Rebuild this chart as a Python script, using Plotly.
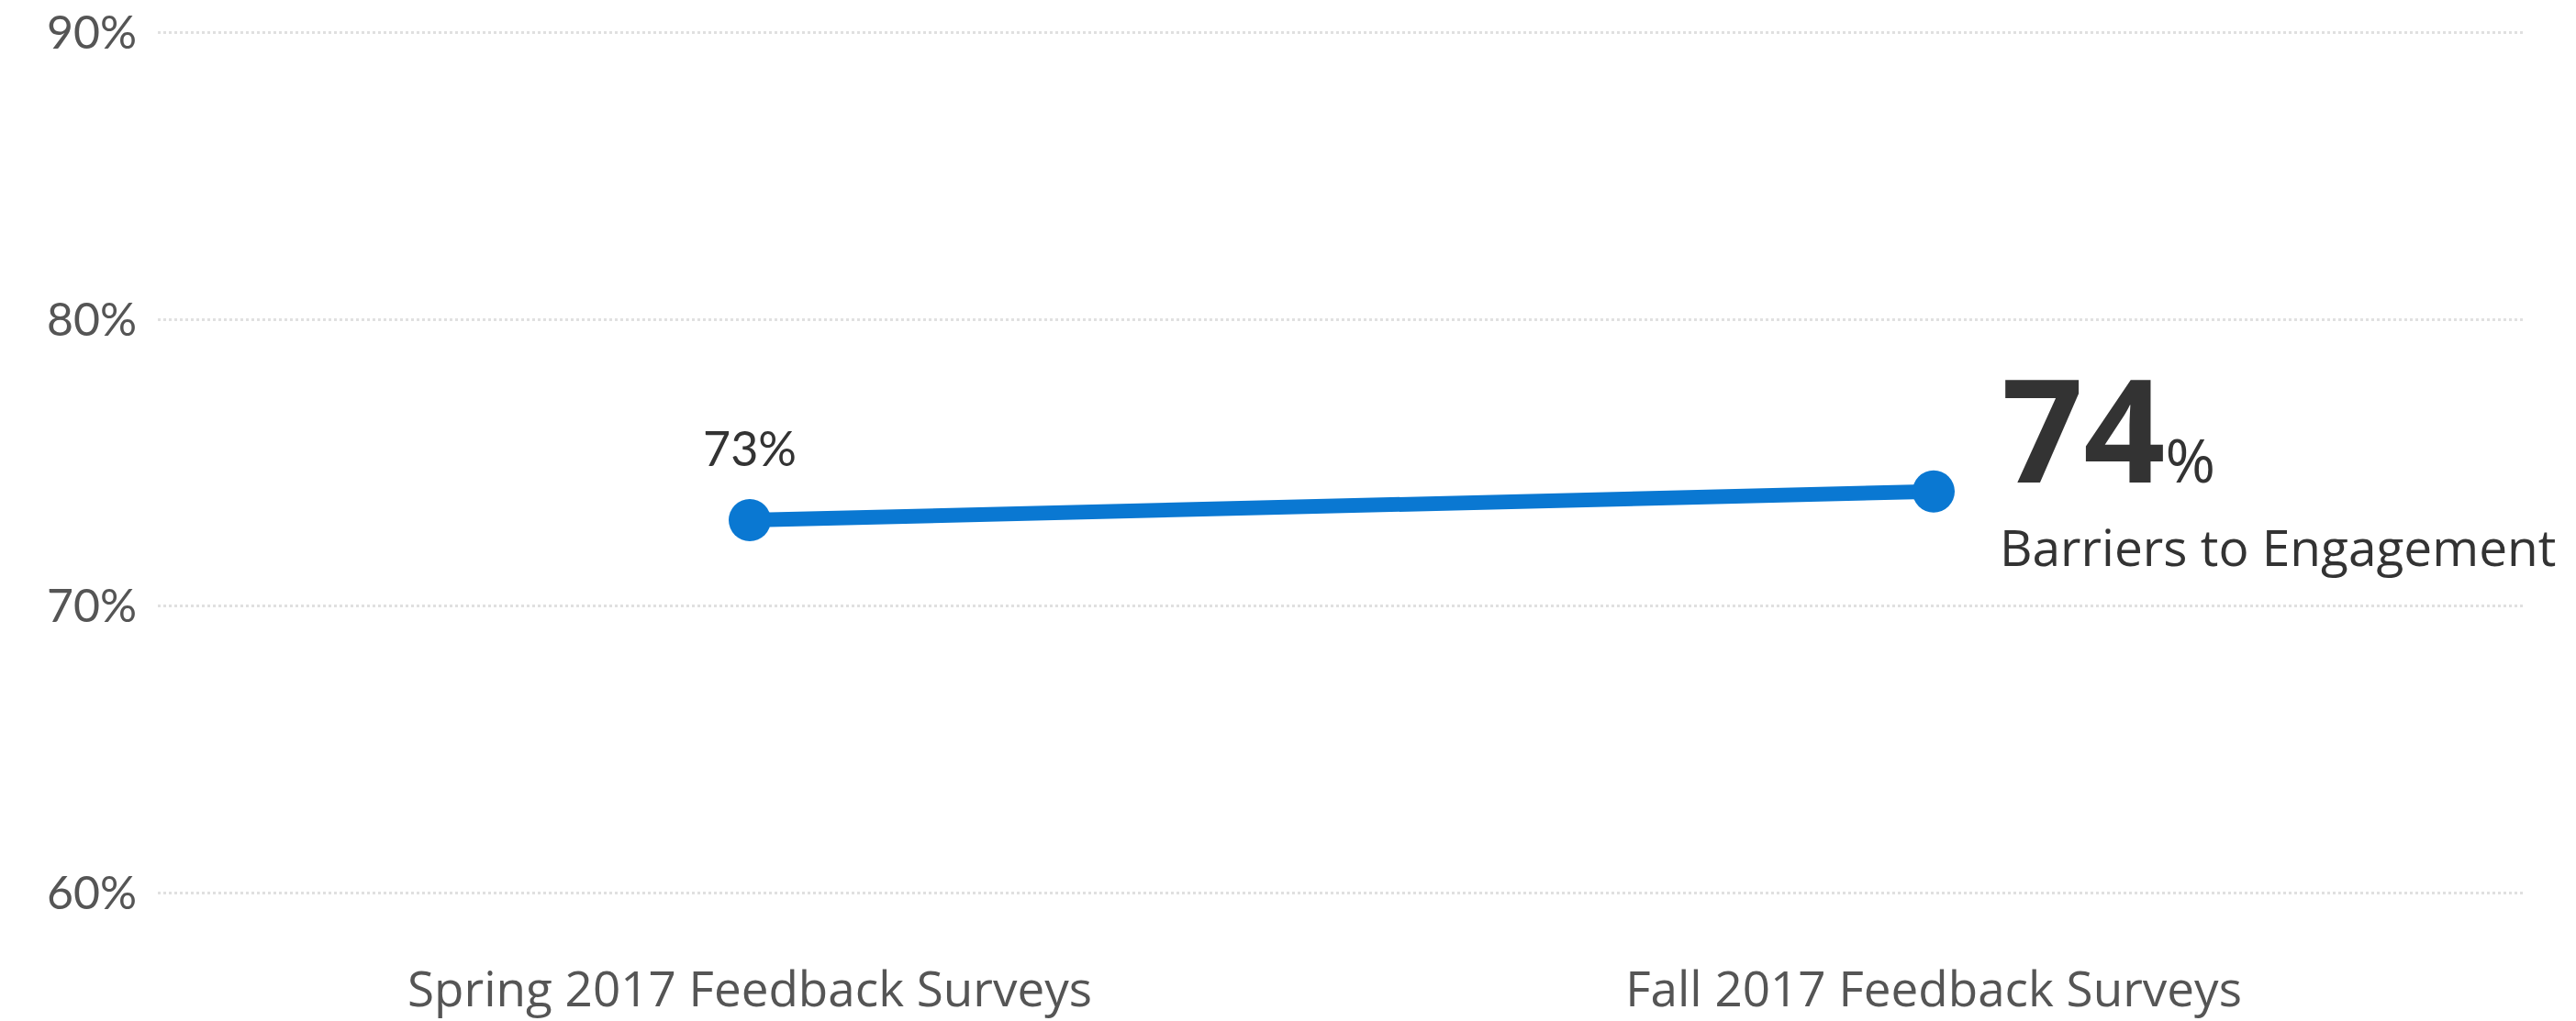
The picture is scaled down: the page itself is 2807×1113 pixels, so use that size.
import plotly.graph_objects as go

# Survey waves and share reporting barriers (percent)
surveys = ["Spring 2017 Feedback Surveys", "Fall 2017 Feedback Surveys"]
barriers_pct = [73, 74]
series_name = "Barriers to Engagement"
y_ticks = [60, 70, 80, 90]

LINE_BLUE = "#0a78d2"
TEXT_GREY = "#555555"
TEXT_DARK = "#333333"

fig = go.Figure()

fig.add_trace(go.Scatter(
    x=surveys,
    y=barriers_pct,
    mode="lines+markers",
    line=dict(color=LINE_BLUE, width=16),
    marker=dict(color=LINE_BLUE, size=46),
    name=series_name,
    hoverinfo="skip",
))

# Value label above the first point
fig.add_annotation(
    x=surveys[0], y=barriers_pct[0],
    text=f"{barriers_pct[0]}%",
    showarrow=False,
    yanchor="bottom", yshift=46,
    font=dict(family="Lato", size=52, color=TEXT_DARK),
)

# Headline value next to the latest point
fig.add_annotation(
    x=surveys[-1], y=barriers_pct[-1],
    text=f"<b>{barriers_pct[-1]}</b><span style='font-size:66px'>%</span>",
    showarrow=False,
    xanchor="left", xshift=72,
    yanchor="bottom", yshift=-38,
    font=dict(family="Open Sans", size=156, color=TEXT_DARK),
)

# Series name under the headline value
fig.add_annotation(
    x=surveys[-1], y=barriers_pct[-1],
    text=series_name,
    showarrow=False,
    xanchor="left", xshift=70,
    yanchor="top", yshift=-20,
    font=dict(family="Open Sans", size=55, color=TEXT_DARK),
)

fig.update_layout(
    width=2807, height=1113,
    margin=dict(l=172, r=55, t=29, b=133),
    paper_bgcolor="white",
    plot_bgcolor="white",
    showlegend=False,
    font=dict(family="Lato", color=TEXT_GREY),
)

fig.update_xaxes(
    type="category",
    range=[-0.5, 1.5],
    automargin=False,
    showgrid=False,
    zeroline=False,
    showline=False,
    ticks="",
    ticklabelstandoff=63,
    tickfont=dict(family="Open Sans", size=53, color=TEXT_GREY),
)

fig.update_yaxes(
    range=[59.8, 90.2],
    tickvals=y_ticks,
    ticktext=[f"{v}%" for v in y_ticks],
    automargin=False,
    showgrid=True,
    gridcolor="#e0e0e0",
    gridwidth=3,
    griddash="dot",
    zeroline=False,
    showline=False,
    ticks="",
    ticklabelstandoff=22,
    tickfont=dict(family="Lato", size=50, color=TEXT_GREY),
)

fig.write_html("out.html")
